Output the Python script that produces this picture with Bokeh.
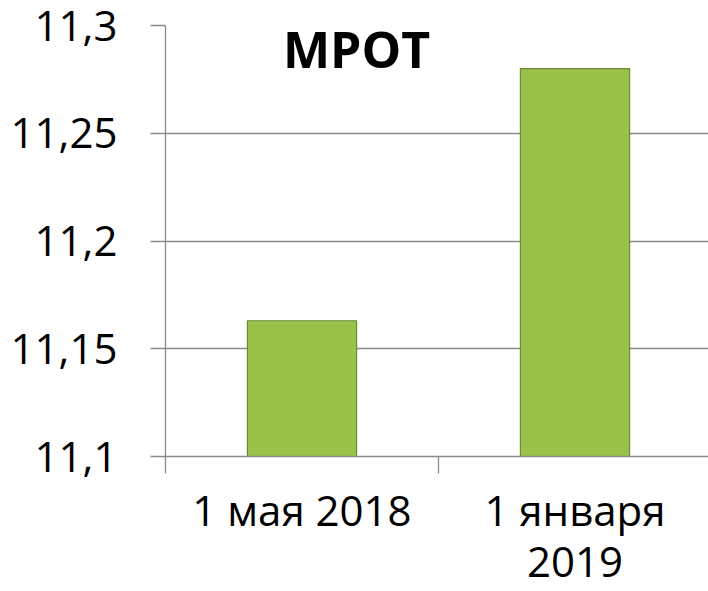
from bokeh.plotting import figure
from bokeh.models import Range1d, FixedTicker, Label, ColumnDataSource
from bokeh.embed import file_html
from bokeh.resources import INLINE

# ---- data ----
categories = ["1 мая 2018", "1 января\n2019"]
values = [11.163, 11.280]
y_ticks = [11.1, 11.15, 11.2, 11.25, 11.3]
y_tick_labels = ["11,1", "11,15", "11,2", "11,25", "11,3"]
title_text = "МРОТ"

FONT = "Open Sans"
GRID = "#8a8a8a"

n = len(categories)
xs = [i + 0.5 for i in range(n)]
src = ColumnDataSource(dict(x=xs, top=values, bottom=[y_ticks[0]] * n))

p = figure(width=708, height=591, output_backend="svg", toolbar_location=None,
           x_range=Range1d(0, 1.989), y_range=Range1d(y_ticks[0], y_ticks[-1]),
           min_border_left=165, min_border_right=0, min_border_top=25,
           min_border_bottom=0)
p.outline_line_color = None
p.background_fill_color = "white"
p.border_fill_color = "white"

p.vbar(x="x", top="top", bottom="bottom", width=0.4, source=src,
       fill_color="#9ac24b", line_color="#6d8c2f", line_width=1.2)

# y axis
p.yaxis.ticker = FixedTicker(ticks=y_ticks)
p.yaxis.major_label_overrides = {t: l for t, l in zip(y_ticks, y_tick_labels)}
p.yaxis.major_label_text_font = FONT
p.yaxis.major_label_text_font_size = "42px"
p.yaxis.major_label_text_color = "black"
p.yaxis.major_label_standoff = 33
p.yaxis.major_tick_out = 15
p.yaxis.major_tick_in = 0
p.yaxis.minor_tick_line_color = None
p.yaxis.axis_line_color = GRID
p.yaxis.axis_line_width = 1.3
p.yaxis.major_tick_line_color = GRID
p.yaxis.major_tick_line_width = 1.3

# x axis: labels at category centres, tick marks at category boundaries
p.xaxis.ticker = FixedTicker(ticks=xs, minor_ticks=list(range(n + 1)))
p.xaxis.major_label_overrides = {x: c for x, c in zip(xs, categories)}
p.xaxis.major_label_text_font = FONT
p.xaxis.major_label_text_font_size = "42px"
p.xaxis.major_label_text_color = "black"
p.xaxis.major_label_text_line_height = 0.9
p.xaxis.major_label_standoff = 7
p.xaxis.major_tick_out = 0
p.xaxis.major_tick_in = 0
p.xaxis.minor_tick_out = 17
p.xaxis.minor_tick_in = 0
p.xaxis.minor_tick_line_color = GRID
p.xaxis.minor_tick_line_width = 1.3
p.xaxis.axis_line_color = GRID
p.xaxis.axis_line_width = 1.3

p.xgrid.grid_line_color = None
p.ygrid.ticker = FixedTicker(ticks=y_ticks)
p.ygrid.grid_line_color = GRID
p.ygrid.grid_line_width = 1.3

p.add_layout(Label(x=0.7, y=11.289, text=title_text, text_font=FONT,
                   text_font_size="50px", text_font_style="bold",
                   text_align="center", text_baseline="middle",
                   text_color="black"))

open("out.html", "w").write(file_html(p, INLINE))
